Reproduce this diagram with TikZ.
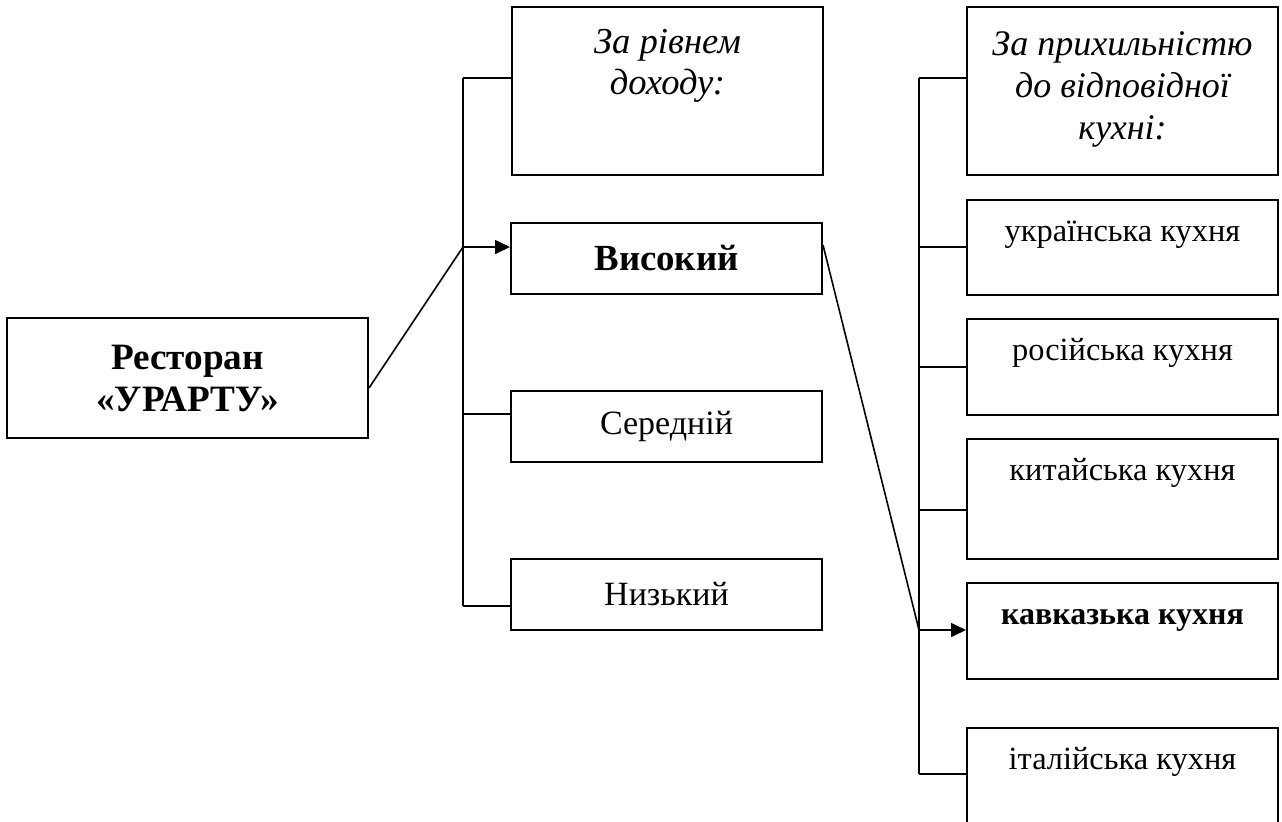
\documentclass[tikz,border=0pt]{standalone}
\usepackage{fontspec}
\setmainfont{Liberation Serif}
\usepackage{tikz}
\usetikzlibrary{arrows.meta, positioning}

\begin{document}
\begin{tikzpicture}[
    x=0.5pt, y=-0.5pt,
    box/.style={draw, line width=1pt, inner sep=0pt, minimum width=155.5pt, align=center},
    head/.style={box, font=\fontsize{18.3}{20.5}\itshape, text depth=#1},
    kind/.style={box, font=\fontsize{16.2}{18}\selectfont, text height=20.5pt, text depth=#1},
    lvl/.style={box, minimum height=35.5pt, font=\fontsize{17}{20}\selectfont},
    lnk/.style={line width=0.8pt},
    arr/.style={lnk, -{Triangle[length=7.5pt, width=7pt]}},
  ]
  \useasboundingbox (0,0) rectangle (1282,821);
  % root
  \node[box, minimum width=180.5pt, minimum height=60pt, font=\fontsize{18.6}{21}\bfseries] (rest) at (187.5,378) {Ресторан\\«УРАРТУ»};
  % income level
  \node[head=40.5pt, text height=43.5pt, anchor=north west] (inc) at (511,6) {За рівнем\\доходу:};
  \node[lvl, font=\fontsize{18.4}{20}\bfseries] (high) at (666.5,258.5) {Високий};
  \node[lvl] (mid) at (666.5,426.5) {Середній};
  \node[lvl] (low) at (666.5,594.5) {Низький};
  % cuisine
  \node[head=18pt, text height=66pt, anchor=north west, font=\fontsize{18}{21}\itshape] (cuis) at (966,6) {За прихильністю\\до відповідної\\кухні:};
  \node[kind=27pt, anchor=north west] (ukr) at (966,199) {українська кухня};
  \node[kind=27.5pt, anchor=north west] (rus) at (966,318) {російська кухня};
  \node[kind=39.5pt, anchor=north west] (chin) at (966,438) {китайська кухня};
  \node[kind=27.5pt, anchor=north west, font=\fontsize{16}{18}\bfseries] (cauc) at (966,582) {кавказька кухня};
  \node[kind=33.5pt, anchor=north west] (ital) at (966,727) {італійська кухня};
  % left trunk
  \coordinate (lt) at (463,78);
  \coordinate (lj) at (463,247);
  \coordinate (lm) at (463,414);
  \coordinate (lb) at (463,606);
  \draw[lnk] (lt) -- (lb);
  \draw[lnk] (lt) -- (lt -| inc.west);
  \draw[lnk] (lm) -- (lm -| mid.west);
  \draw[lnk] (lb) -- (lb -| low.west);
  \draw[lnk] ([yshift=-5pt]rest.east) -- (lj);
  \draw[arr] (lj) -- (lj -| high.west);
  % right trunk
  \coordinate (rt) at (919,78);
  \coordinate (ru) at (919,247);
  \coordinate (rr) at (919,367);
  \coordinate (rc) at (919,510);
  \coordinate (rj) at (919,630);
  \coordinate (rb) at (919,774);
  \draw[lnk] (rt) -- (rb);
  \draw[lnk] (rt) -- (rt -| cuis.west);
  \draw[lnk] (ru) -- (ru -| ukr.west);
  \draw[lnk] (rr) -- (rr -| rus.west);
  \draw[lnk] (rc) -- (rc -| chin.west);
  \draw[lnk] (rb) -- (rb -| ital.west);
  \draw[lnk] ([yshift=6.75pt]high.east) -- (rj);
  \draw[arr] (rj) -- (rj -| cauc.west);
\end{tikzpicture}
\end{document}
